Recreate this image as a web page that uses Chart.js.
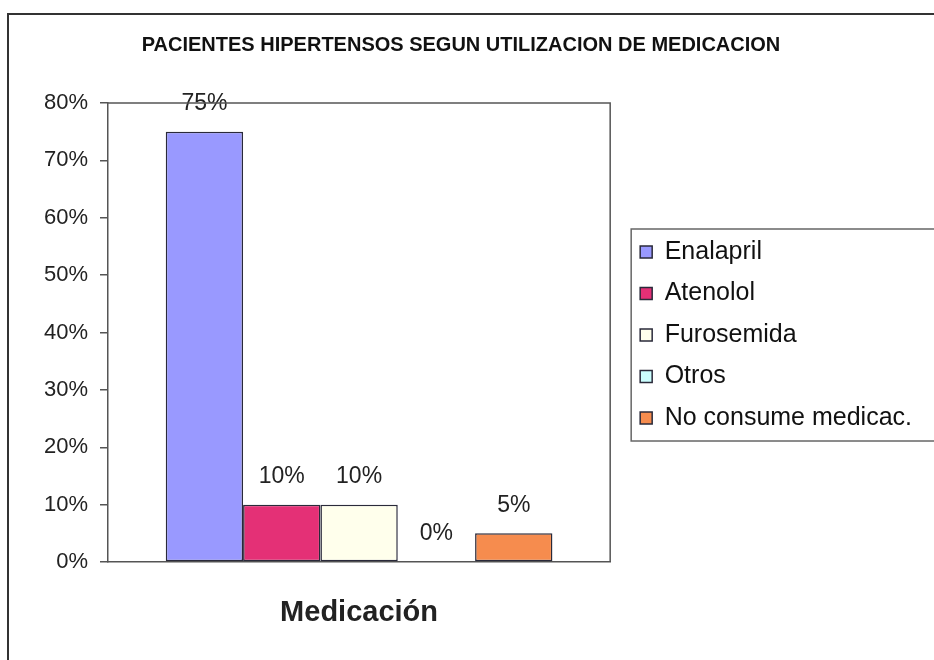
<!DOCTYPE html>
<html>
<head>
<meta charset="utf-8">
<script src="https://cdn.jsdelivr.net/npm/chart.js@4.4.1/dist/chart.umd.min.js"></script>
<style>
    html, body { margin: 0; padding: 0; background: #fff; }
    #chart_wrap { width: 934px; height: 660px; }
</style>
</head>
<body>
<div id="chart_wrap"><canvas id="med_chart" width="934" height="660"></canvas></div>
<script>
const chart_title = 'PACIENTES HIPERTENSOS SEGUN UTILIZACION DE MEDICACION';
const categories = ['Medicación'];
const series_names = ['Enalapril', 'Atenolol', 'Furosemida', 'Otros', 'No consume medicac.'];
const series_values = [75, 10, 10, 0, 5];
const y_ticks = [0, 10, 20, 30, 40, 50, 60, 70, 80];

const SERIES_COLORS = [
    'rgb(153, 153, 255)',
    'rgb(228, 48, 118)',
    'rgb(255, 255, 236)',
    'rgb(204, 255, 255)',
    'rgb(246, 140, 78)'
];
const FONT = "'Liberation Sans', Arial, sans-serif";

// white page, outer frame and plot box lines
const frame_plugin = {
    id: 'frame_lines',
    beforeDraw: (chart) => {
        const ctx = chart.ctx;
        ctx.save();
        ctx.fillStyle = 'white';
        ctx.fillRect(0, 0, chart.width, chart.height);
        ctx.restore();
    },
    afterDraw: (chart) => {
        const ctx = chart.ctx;
        const area = chart.chartArea;
        ctx.save();
        ctx.strokeStyle = '#555';
        ctx.lineWidth = 1.5;
        ctx.beginPath();
        ctx.moveTo(area.left, area.top);
        ctx.lineTo(area.right, area.top);
        ctx.lineTo(area.right, area.bottom);
        ctx.stroke();

        // legend box
        const boxes = chart.legend.legendHitBoxes;
        if (boxes && boxes.length) {
            const first = boxes[0];
            const last = boxes[boxes.length - 1];
            ctx.strokeStyle = '#666';
            ctx.lineWidth = 1.5;
            ctx.strokeRect(first.left - 9, first.top - 10.5, chart.width, last.top + last.height - first.top + 21);
        }

        ctx.strokeStyle = '#333';
        ctx.lineWidth = 2;
        ctx.beginPath();
        ctx.moveTo(8, chart.height);
        ctx.lineTo(8, 14);
        ctx.lineTo(chart.width, 14);
        ctx.stroke();
        ctx.restore();
    }
};

// value labels above each bar
const value_labels_plugin = {
    id: 'value_labels',
    afterDatasetsDraw: (chart) => {
        const ctx = chart.ctx;
        ctx.save();
        ctx.font = '23px ' + FONT;
        ctx.fillStyle = '#222';
        ctx.textAlign = 'center';
        ctx.textBaseline = 'middle';
        chart.data.datasets.forEach(function (ds, i) {
            const meta = chart.getDatasetMeta(i);
            meta.data.forEach(function (bar, j) {
                ctx.fillText(ds.data[j] + '%', bar.x, bar.y - 28);
            });
        });
        ctx.restore();
    }
};

var datasets = [];
for (var i = 0; i < series_names.length; i++) {
    datasets.push({
        label: series_names[i],
        data: [series_values[i]],
        backgroundColor: SERIES_COLORS[i],
        borderColor: '#2a2a3a',
        borderWidth: 1.5,
        borderSkipped: false,
        categoryPercentage: 0.77,
        barPercentage: 1.0
    });
}

Chart.defaults.font.family = FONT;
Chart.defaults.color = '#222';

const config = {
    type: 'bar',
    data: {
        labels: categories,
        datasets: datasets
    },
    options: {
        animation: false,
        responsive: false,
        devicePixelRatio: 1,
        layout: {
            padding: { top: 10, right: 12, bottom: 0, left: 0 }
        },
        scales: {
            x: {
                grid: { display: false },
                ticks: { display: false },
                border: { display: true, color: '#555', width: 1.5 },
                title: {
                    display: true,
                    text: categories[0],
                    color: '#222',
                    font: { size: 29, weight: 'bold' },
                    padding: { top: 0, bottom: 30 }
                },
                afterFit: function (scale) { scale.height = 98; }
            },
            y: {
                min: 0,
                max: y_ticks[y_ticks.length - 1],
                afterBuildTicks: function (scale) {
                    scale.ticks = y_ticks.map(v => ({ value: v }));
                },
                ticks: {
                    padding: 12,
                    color: '#222',
                    font: { size: 22 },
                    callback: function (v) { return v + '%'; }
                },
                grid: {
                    drawOnChartArea: false,
                    drawTicks: true,
                    tickLength: 8,
                    color: '#555',
                    lineWidth: 1.5
                },
                border: { display: true, color: '#555', width: 1.5 },
                afterFit: function (scale) { scale.width = 108; }
            },
            y_gap: {
                position: 'right',
                min: 0,
                max: 80,
                grid: { display: false },
                ticks: { display: false },
                border: { display: false },
                afterFit: function (scale) { scale.width = 13.5; }
            }
        },
        plugins: {
            title: {
                display: true,
                text: chart_title,
                color: '#111',
                font: { size: 20, weight: 'bold' },
                padding: { top: 23, bottom: 46 }
            },
            legend: {
                position: 'right',
                align: 'center',
                maxWidth: 400,
                labels: {
                    boxWidth: 12,
                    boxHeight: 12,
                    padding: 16.5,
                    color: '#111',
                    font: { size: 25 }
                }
            },
            tooltip: { enabled: false }
        }
    },
    plugins: [frame_plugin, value_labels_plugin]
};

new Chart(document.getElementById('med_chart').getContext('2d'), config);
</script>
</body>
</html>
